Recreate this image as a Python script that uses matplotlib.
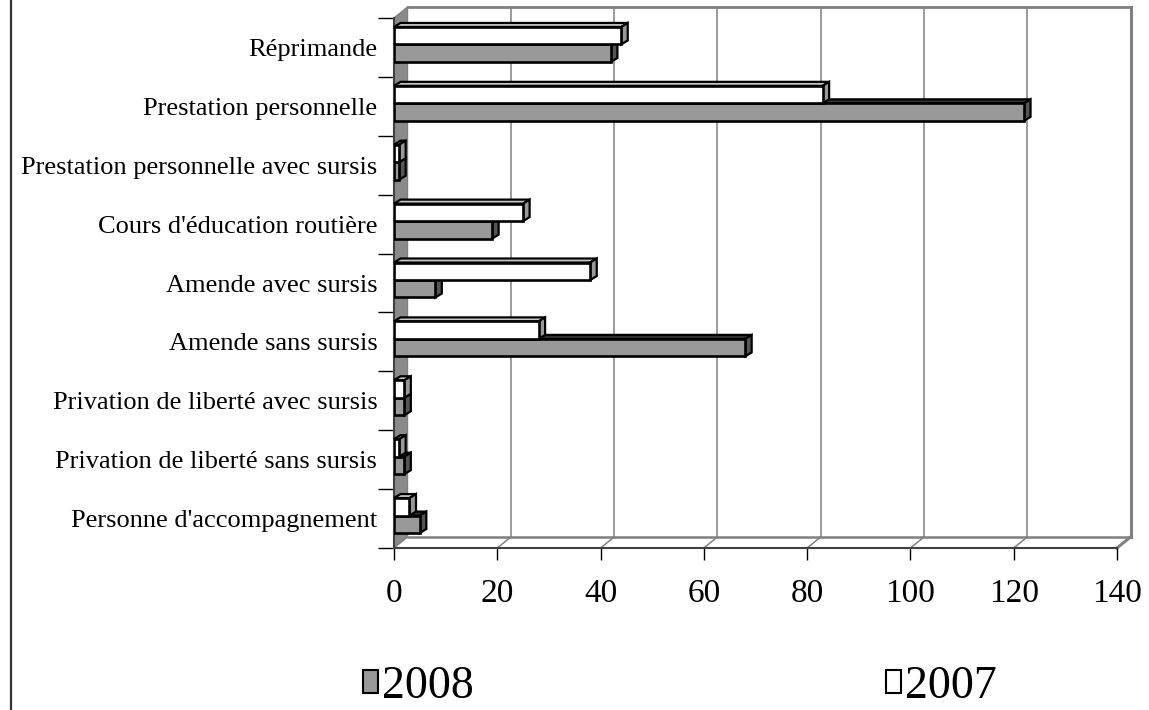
import matplotlib.pyplot as plt
from matplotlib.patches import Polygon, Patch
from matplotlib.lines import Line2D

categories = ["Réprimande", "Prestation personnelle", "Prestation personnelle avec sursis",
              "Cours d'éducation routière", "Amende avec sursis", "Amende sans sursis",
              "Privation de liberté avec sursis", "Privation de liberté sans sursis",
              "Personne d'accompagnement"]
values_2007 = [44, 83, 1, 25, 38, 28, 2, 1, 3]
values_2008 = [42, 122, 1, 19, 8, 68, 2, 2, 5]
x_ticks = [0, 20, 40, 60, 80, 100, 120, 140]
series_labels = ["2008", "2007"]

plt.rcParams['font.family'] = ['Liberation Serif', 'DejaVu Serif']

fig = plt.figure(figsize=(11.49, 7.10), dpi=100)
W, H = 1149, 710
ax = fig.add_axes([394 / W, 162 / H, 723 / W, 530 / H])
n = len(categories)
xmax = x_ticks[-1]
ax.set_xlim(0, xmax)
ax.set_ylim(n, 0)

# pixel -> data helpers for the fake 3d depth
ux = 723 / xmax
uy = 530 / n
wx, wy = 13.5 / ux, -11 / uy      # wall depth
bx, by = 6.5 / ux, -4 / uy        # bar depth
bh = 17.5 / uy                    # bar thickness
shift = 3 / uy

grid_c = '#808080'
# left wall
ax.add_patch(Polygon([(0, 0), (wx, wy), (wx, n + wy), (0, n)], closed=True,
                     facecolor='#8a8a8a', edgecolor=grid_c, lw=1, zorder=1, clip_on=False))
# back wall gridlines and floor lines
for t in x_ticks[1:]:
    lw = 2.2 if t == xmax else 1.1
    ax.plot([t + wx, t + wx], [wy, n + wy], color=grid_c, lw=lw, zorder=1, clip_on=False)
    ax.plot([t, t + wx], [n, n + wy], color=grid_c, lw=lw, zorder=1, clip_on=False)
ax.plot([wx, xmax + wx], [wy, wy], color=grid_c, lw=2, zorder=1, clip_on=False)
ax.plot([wx, xmax + wx], [n + wy, n + wy], color=grid_c, lw=1.8, zorder=1, clip_on=False)

centers = [i + 0.5 for i in range(n)]
y07 = [c - shift - bh / 2 for c in centers]
y08 = [c - shift + bh / 2 for c in centers]


def depth_faces(vals, ys, side_c, top_c, z):
    for v, yc in zip(vals, ys):
        y0, y1 = yc - bh / 2, yc + bh / 2
        ax.add_patch(Polygon([(0, y0), (v, y0), (v + bx, y0 + by), (bx, y0 + by)],
                             closed=True, facecolor=top_c, edgecolor='k', lw=1.6,
                             zorder=z, clip_on=False))
        ax.add_patch(Polygon([(v, y0), (v, y1), (v + bx, y1 + by), (v + bx, y0 + by)],
                             closed=True, facecolor=side_c, edgecolor='k', lw=1.6,
                             zorder=z, clip_on=False))


depth_faces(values_2008, y08, '#555555', '#333333', 3)
ax.barh(y08, values_2008, height=bh, color='#999999', edgecolor='k', lw=1.9, zorder=4)
depth_faces(values_2007, y07, '#999999', '#c8c8c8', 5)
ax.barh(y07, values_2007, height=bh, color='white', edgecolor='k', lw=1.9, zorder=6)

# axes
for s in ['top', 'right']:
    ax.spines[s].set_visible(False)
for s in ['left', 'bottom']:
    ax.spines[s].set_color('#404040')
    ax.spines[s].set_linewidth(1.5)
ax.set_xticks(x_ticks)
ax.set_xticklabels([str(t) for t in x_ticks])
ax.tick_params(axis='x', length=8.6, width=1, direction='out', pad=13, labelsize=24)
ax.set_yticks(range(n + 1))
ax.set_yticklabels([])
ax.tick_params(axis='y', which='major', length=11.5, width=1, direction='out')
ax.set_yticks(centers, minor=True)
ax.set_yticklabels(categories, minor=True)
ax.tick_params(axis='y', which='minor', length=0, pad=12, labelsize=19)

handles = [Patch(facecolor='#999999', edgecolor='k', lw=1.5),
           Patch(facecolor='white', edgecolor='k', lw=1.5)]
fig.legend(handles, series_labels, loc='center', bbox_to_anchor=(680 / W, 23 / H), ncol=2,
           frameon=False, fontsize=33, handlelength=0.33, handleheight=0.4,
           handletextpad=0.08, columnspacing=9.0, borderpad=0.2)

# outer border on the left
fig.add_artist(Line2D([10.5 / W, 10.5 / W], [0, 1], color='#333333', lw=1.6))

fig.savefig('out.png', dpi=100)
